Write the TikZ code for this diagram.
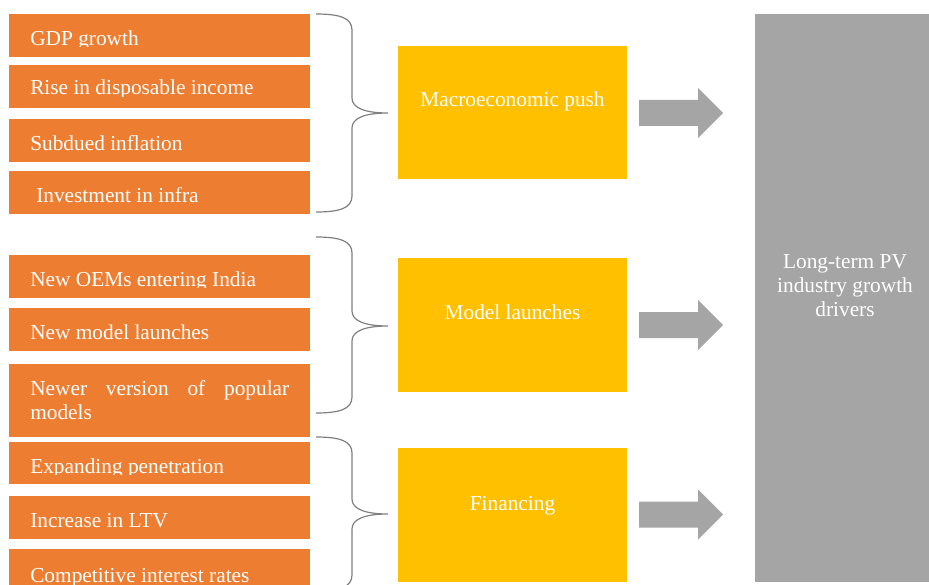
\documentclass[tikz,border=0pt]{standalone}
\usepackage{fontspec}
\setmainfont{Liberation Serif}
\usetikzlibrary{fit}
\definecolor{orangec}{HTML}{ED7D31}
\definecolor{yellowc}{HTML}{FFC000}
\definecolor{grayc}{HTML}{A5A5A5}
\definecolor{bracec}{HTML}{808080}
\tikzset{
  obox/.style={inner sep=0pt, fill=orangec, draw=none},
  ybox/.style={inner sep=0pt, fill=yellowc, draw=none},
  gbox/.style={inner sep=0pt, fill=grayc, draw=none},
  otext/.style={anchor=base west, inner sep=0pt, text=white, font=\fontsize{16}{18}\selectfont},
  ytext/.style={anchor=base, inner sep=0pt, text=white, font=\fontsize{16}{18}\selectfont},
  bracestyle/.style={draw=bracec, line width=0.9pt},
  arrowstyle/.style={fill=grayc, draw=none},
}
\newcommand{\oitem}[7]{%
  \node[obox, fit={(9,#2) (310,#3)}] (#1) {};
  \begin{scope}
    \clip (9,#2) rectangle (310,#6);
    \node[otext] (#1t) at (#4,#5) {#7};
  \end{scope}}
\newcommand{\mybrace}[4]{%
  \coordinate (#1top) at (316,#2);
  \coordinate (#1tip) at (388,#3);
  \coordinate (#1bot) at (316,#4);
  \draw[bracestyle] (#1top) .. controls (340,#2) and (352,#2+4) .. (352,#2+16)
    -- (352,#3-15) .. controls (352,#3-5) and (365,#3) .. (#1tip)
    .. controls (365,#3) and (352,#3+5) .. (352,#3+15)
    -- (352,#4-16) .. controls (352,#4-4) and (340,#4) .. (#1bot);}
\newcommand{\bigarrow}[2]{%
  \coordinate (#1) at (723,#2);
  \fill[arrowstyle] (639,#2-13) -- (698,#2-13) -- (698,#2-25) -- (#1)
    -- (698,#2+25) -- (698,#2+13) -- (639,#2+13) -- cycle;}
\begin{document}
\begin{tikzpicture}[x=0.75pt,y=-0.75pt]
\useasboundingbox (0,0) rectangle (929,585);
\clip (0,0) rectangle (929,585);

% orange items
\oitem{o1}{14}{57}{30}{46}{47}{GDP growth}
\oitem{o2}{65}{108}{30}{95}{97}{Rise in disposable income}
\oitem{o3}{119}{162}{30}{151}{153}{Subdued inflation}
\oitem{o4}{171}{214}{36}{202}{204}{Investment in infra}
\oitem{o5}{255}{298}{30}{286}{287.5}{New OEMs entering India}
\oitem{o6}{308}{351}{30}{339}{341}{New model launches}
\node[obox, fit={(9,364) (310,437)}] (o7) {};
\node[otext] (o7t) at (30,395) {\parbox[t]{194.25pt}{\tolerance=10000\hyphenpenalty=10000 Newer version of popular models}};
\oitem{o8}{442}{484}{30}{473}{474.5}{Expanding penetration}
\oitem{o9}{496}{539}{30}{527}{529}{Increase in LTV}
\oitem{o10}{549}{595}{30}{582}{590}{Competitive interest rates}

% braces
\mybrace{b1}{14}{113}{212}
\mybrace{b2}{237}{326}{413}
\mybrace{b3}{437}{514}{591}

% yellow boxes
\node[ybox, fit={(398,46) (627,179)}] (y1) {};
\node[ytext] (y1t) at (512.5,107) {Macroeconomic push};
\node[ybox, fit={(398,258) (627,392)}] (y2) {};
\node[ytext] (y2t) at (512.5,319) {Model launches};
\node[ybox, fit={(398,448) (627,582)}] (y3) {};
\node[ytext] (y3t) at (512.5,510) {Financing};

% arrows
\bigarrow{a1}{113}
\bigarrow{a2}{325}
\bigarrow{a3}{514.5}

% gray box
\node[gbox, fit={(755,14) (929,582)}] (g) {};
\node[ytext, align=center, anchor=north] (gt) at (845,254) {Long-term PV\\industry growth\\drivers};
\end{tikzpicture}
\end{document}
